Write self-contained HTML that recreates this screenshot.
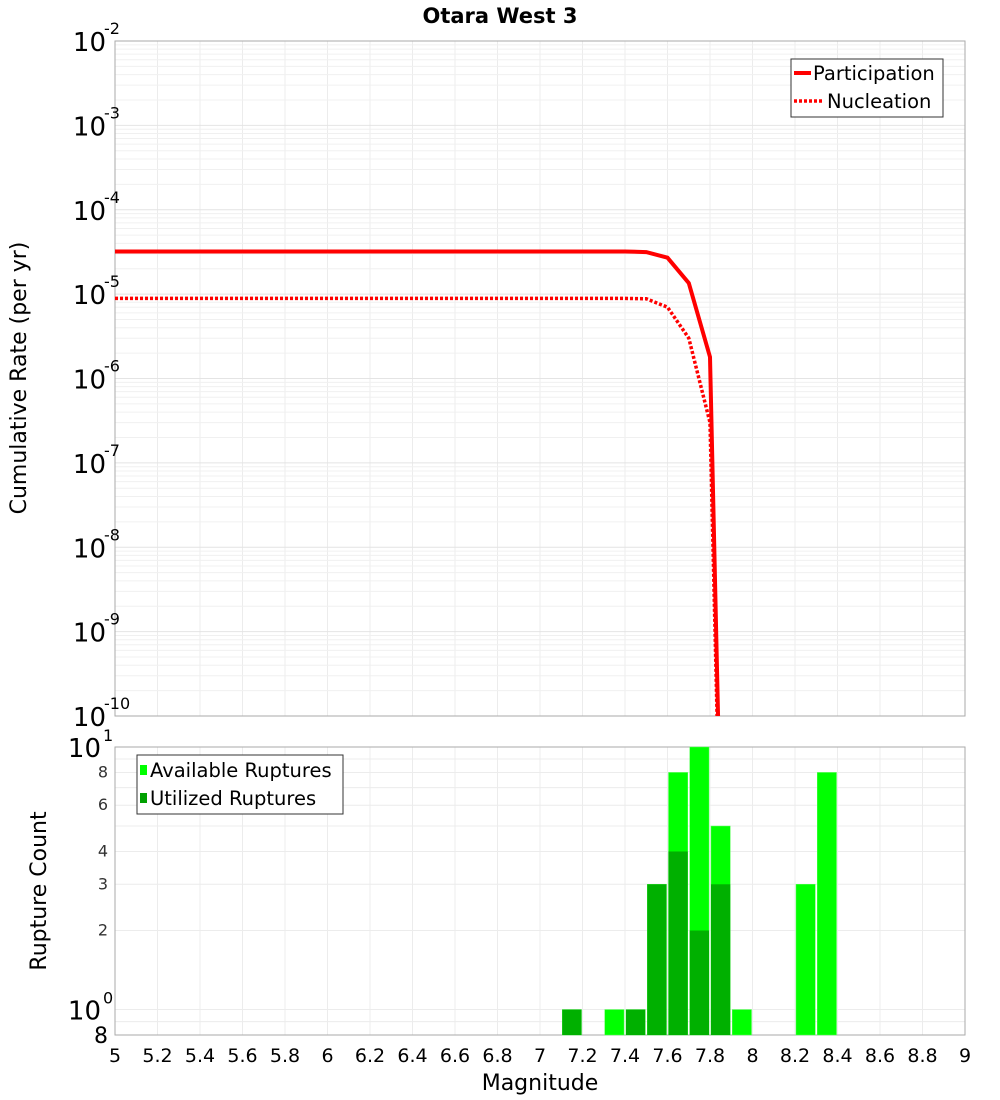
<!DOCTYPE html>
<html><head><meta charset="utf-8"><style>
html,body{margin:0;background:#fff;width:1000px;height:1100px;overflow:hidden}
svg{display:block}
svg text{font-family:"DejaVu Sans","Liberation Sans",sans-serif}
</style></head><body>
<svg id="c" width="1000" height="1100" xmlns="http://www.w3.org/2000/svg"></svg>
<script>
const magX=[5,5.1,5.2,5.3,5.4,5.5,5.6,5.7,5.8,5.9,6,6.1,6.2,6.3,6.4,6.5,6.6,6.7,6.8,6.9,7,7.1,7.2,7.3,7.4,7.5,7.6,7.7,7.8,7.9];
const partVals=[3.2e-5,3.2e-5,3.2e-5,3.2e-5,3.2e-5,3.2e-5,3.2e-5,3.2e-5,3.2e-5,3.2e-5,3.2e-5,3.2e-5,3.2e-5,3.2e-5,3.2e-5,3.2e-5,3.2e-5,3.2e-5,3.2e-5,3.2e-5,3.2e-5,3.2e-5,3.2e-5,3.2e-5,3.2e-5,3.15e-5,2.7e-5,1.35e-5,1.8e-6,1e-17];
const nuclVals=[8.9e-6,8.9e-6,8.9e-6,8.9e-6,8.9e-6,8.9e-6,8.9e-6,8.9e-6,8.9e-6,8.9e-6,8.9e-6,8.9e-6,8.9e-6,8.9e-6,8.9e-6,8.9e-6,8.9e-6,8.9e-6,8.9e-6,8.9e-6,8.9e-6,8.9e-6,8.9e-6,8.9e-6,8.9e-6,8.8e-6,7e-6,3e-6,3e-7,1e-17];
const binStarts=[7.1,7.3,7.4,7.5,7.6,7.7,7.8,7.9,8.2,8.3];
const availCounts=[1,1,1,3,8,10,5,1,3,8];
const utilCounts=[1,0,1,3,4,2,3,0,0,0];
const xTicks=[5,5.2,5.4,5.6,5.8,6,6.2,6.4,6.6,6.8,7,7.2,7.4,7.6,7.8,8,8.2,8.4,8.6,8.8,9];
const topExps=[-2,-3,-4,-5,-6,-7,-8,-9,-10];
const botTicks=[2,3,4,6,8];

const svg=document.getElementById('c');const NS='http://www.w3.org/2000/svg';
function el(t,a,p){const e=document.createElementNS(NS,t);for(const k in a)e.setAttribute(k,a[k]);(p||svg).appendChild(e);return e;}
const L=115,R=965,T1=41,B1=716,T2=747,B2=1035;
const xs=m=>L+(m-5)/4*(R-L);
const y1=v=>T1+(-2-Math.log10(v))*(B1-T1)/8;
const lmin=Math.log10(0.8),lmax=1;
const y2=v=>B2-(Math.log10(v)-lmin)/(lmax-lmin)*(B2-T2);

const g=el('g',{});
xTicks.forEach(t=>{el('line',{x1:xs(t),x2:xs(t),y1:T1,y2:B1,stroke:'#ececec'},g);el('line',{x1:xs(t),x2:xs(t),y1:T2,y2:B2,stroke:'#ececec'},g);});
for(let e=-10;e<-2;e++)for(let k=1;k<10;k++){const y=y1(k*Math.pow(10,e));el('line',{x1:L,x2:R,y1:y,y2:y,stroke:k==1?'#e4e4e4':'#f0f0f0'},g);}
[0.8,0.9,1,2,3,4,5,6,7,8,9].forEach(v=>{const y=y2(v);el('line',{x1:L,x2:R,y1:y,y2:y,stroke:'#ececec'},g);});

el('rect',{x:L,y:T1,width:R-L,height:B1-T1,fill:'none',stroke:'#aaa'});
el('rect',{x:L,y:T2,width:R-L,height:B2-T2,fill:'none',stroke:'#aaa'});

const cp=el('clipPath',{id:'cp'});el('rect',{x:L,y:T1,width:R-L,height:B1-T1},cp);
const pts=a=>magX.map((m,i)=>xs(m).toFixed(1)+','+y1(a[i]).toFixed(1)).join(' ');
const lp=el('polyline',{points:pts(partVals),fill:'none',stroke:'#f00','stroke-width':4,'clip-path':'url(#cp)'});

const ln=el('polyline',{points:pts(nuclVals),fill:'none',stroke:'#f00','stroke-width':3.5,'stroke-dasharray':'3,2','clip-path':'url(#cp)'});


binStarts.forEach((b,i)=>{
 const x=xs(b)+1,w=xs(b+0.1)-xs(b)-2;
 const ra=el('rect',{x:x,y:y2(availCounts[i]),width:w,height:B2-y2(availCounts[i]),fill:'#00ff00',stroke:'#5f5',"stroke-width":0.5});
 
 if(utilCounts[i]>0){const ru=el('rect',{x:x,y:y2(utilCounts[i]),width:w,height:B2-y2(utilCounts[i]),fill:'#00b000'});
 }
});

xTicks.forEach(t=>{const e=el('text',{x:xs(t),y:1062,'font-size':19,'text-anchor':'middle'});e.textContent=String(t);});
topExps.forEach(e=>{const y=y1(Math.pow(10,e));const t=el('text',{x:106,y:y+10,'font-size':26,'text-anchor':'end'});t.textContent='10';
 const s=el('text',{x:104,y:y-7,'font-size':16,'text-anchor':'start'});s.textContent=String(e);
 });
[[10,'1'],[1,'0']].forEach(([v,ex])=>{const y=y2(v);const t=el('text',{x:101,y:y+10,'font-size':26,'text-anchor':'end'});t.textContent='10';
 const s=el('text',{x:103,y:y-6,'font-size':16});s.textContent=ex;});
botTicks.forEach(v=>{const t=el('text',{x:108,y:y2(v)+5,'font-size':16,'text-anchor':'end',fill:'#333'});t.textContent=String(v);});
{const t=el('text',{x:108,y:1043,'font-size':22,'text-anchor':'end'});t.textContent='8';}

let t=el('text',{x:500,y:23,'font-size':21,'font-weight':'bold','text-anchor':'middle'});t.textContent='Otara West 3';
t=el('text',{x:540,y:1090,'font-size':22,'text-anchor':'middle'});t.textContent='Magnitude';
t=el('text',{x:0,y:0,'font-size':22,'text-anchor':'middle',transform:'translate(26,378) rotate(-90)'});t.textContent='Cumulative Rate (per yr)';
t=el('text',{x:0,y:0,'font-size':22,'text-anchor':'middle',transform:'translate(46,891) rotate(-90)'});t.textContent='Rupture Count';

const lg=el('g',{});
el('rect',{x:791,y:59,width:152,height:58,fill:'#fff',stroke:'#333'},lg);
el('line',{x1:794,x2:811,y1:73,y2:73,stroke:'#f00','stroke-width':4},lg);
el('line',{x1:794,x2:822,y1:101,y2:101,stroke:'#f00','stroke-width':3.5,'stroke-dasharray':'3,2'},lg);
t=el('text',{x:813,y:80,'font-size':19.5},lg);t.textContent='Participation';
t=el('text',{x:827,y:108,'font-size':19.5},lg);t.textContent='Nucleation';
const lg2=el('g',{});
el('rect',{x:137,y:755,width:206,height:59,fill:'#fff',stroke:'#333'},lg2);
el('rect',{x:140,y:765,width:7,height:10,fill:'#00ff00'},lg2);
el('rect',{x:140,y:793,width:7,height:10,fill:'#00a000'},lg2);
t=el('text',{x:150,y:777,'font-size':19.5},lg2);t.textContent='Available Ruptures';
t=el('text',{x:150,y:805,'font-size':19.5},lg2);t.textContent='Utilized Ruptures';
</script>
</body></html>
